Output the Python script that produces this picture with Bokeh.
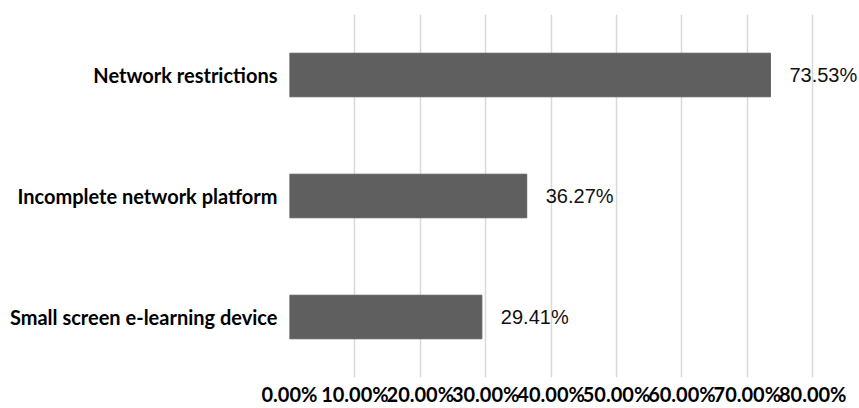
from bokeh.plotting import figure
from bokeh.models import ColumnDataSource, FixedTicker, Range1d, FactorRange
from bokeh.embed import file_html
from bokeh.resources import INLINE
from bokeh.core.properties import value

categories = ["Network restrictions", "Incomplete network platform", "Small screen e-learning device"]
values = [73.53, 36.27, 29.41]
labels = ["73.53%", "36.27%", "29.41%"]
tick_values = [0, 10, 20, 30, 40, 50, 60, 70, 80]
tick_labels = ["0.00%", "10.00%", "20.00%", "30.00%", "40.00%", "50.00%", "60.00%", "70.00%", "80.00%"]

src = ColumnDataSource(dict(cat=categories, val=values, lab=labels))

p = figure(width=859, height=408, output_backend="svg", toolbar_location=None,
           y_range=FactorRange(factors=list(reversed(categories))),
           x_range=Range1d(0, 87))
p.min_border_left = 289
p.min_border_right = 1
p.min_border_top = 14
p.min_border_bottom = 28
p.outline_line_color = None
p.background_fill_color = "white"
p.border_fill_color = "white"

p.hbar(y="cat", right="val", left=0, height=0.36, source=src,
       fill_color="#5f5f5f", line_color="#5f5f5f")
p.text(x="val", y="cat", text="lab", source=src, x_offset=19,
       text_baseline="middle", text_align="left",
       text_font=value("Liberation Sans"), text_font_size="20px", text_color="#111111")

for ax in (p.xaxis, p.yaxis):
    ax.axis_line_color = None
    ax.major_tick_line_color = None
    ax.minor_tick_line_color = None
    ax.major_tick_out = 0
    ax.major_tick_in = 0
    ax.minor_tick_out = 0
    ax.minor_tick_in = 0
    ax.major_label_text_font = "Lato"
    ax.major_label_text_font_style = "bold"
    ax.major_label_text_font_size = "20px"
    ax.major_label_text_color = "#000000"

p.xaxis.ticker = FixedTicker(ticks=tick_values)
p.xaxis.major_label_overrides = {v: l for v, l in zip(tick_values, tick_labels)}
p.xaxis.major_label_standoff = 4
p.yaxis.major_label_standoff = 12

p.xgrid.grid_line_color = "#d9d9d9"
p.xgrid.grid_line_width = 1.5
p.ygrid.grid_line_color = None

open("out.html", "w").write(file_html(p, INLINE))
